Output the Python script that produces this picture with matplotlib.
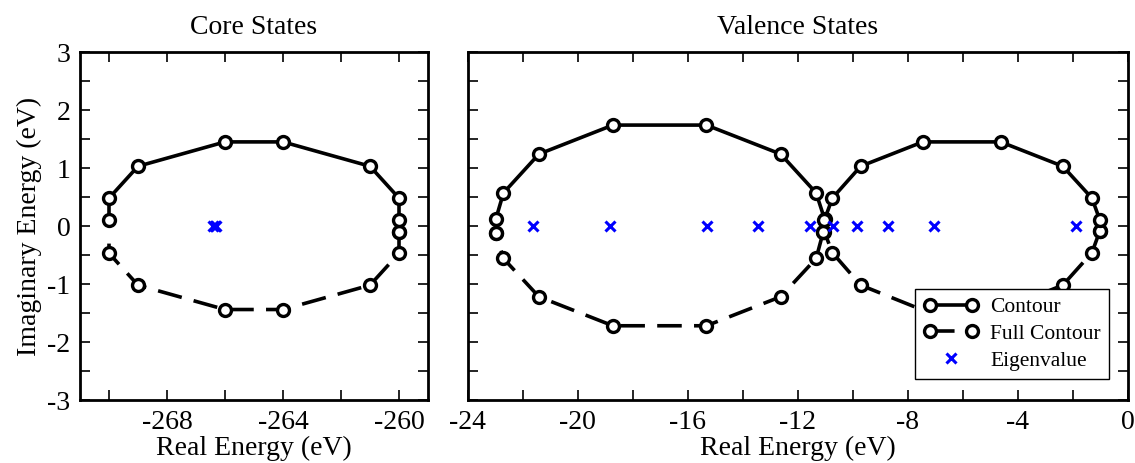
import matplotlib
matplotlib.use('Agg')
import matplotlib.pyplot as plt
from matplotlib.ticker import MultipleLocator
from matplotlib.legend_handler import HandlerLine2D

plt.rcParams['font.family'] = ['Liberation Serif', 'DejaVu Serif']
plt.rcParams['axes.unicode_minus'] = False

# core contour: upper half (solid), from right real axis round to the left
core_up_x = [-260.0, -260.0, -260.0, -261.0, -264.0, -266.0, -269.0, -270.0, -270.0]
core_up_y = [-0.1, 0.1, 0.48, 1.03, 1.45, 1.45, 1.03, 0.48, 0.1]
# mirrored lower half (dashed), right to left
core_lo_x = [-260.0, -260.0, -261.0, -264.0, -266.0, -269.0, -270.0, -270.0]
core_lo_y = [-0.1, -0.47, -1.02, -1.44, -1.44, -1.02, -0.47, -0.1]
core_eig = [-266.4, -266.35, -266.3]

# valence contour, two loops
val1_up_x = [-11.07, -11.02, -11.33, -12.62, -15.32, -18.72, -21.41, -22.70, -22.98, -22.98]
val1_up_y = [-0.1, 0.115, 0.57, 1.24, 1.74, 1.74, 1.24, 0.57, 0.115, -0.115]
val1_lo_x = [-11.07, -11.33, -12.62, -15.32, -18.72, -21.41, -22.70, -22.98]
val1_lo_y = [-0.1, -0.56, -1.22, -1.72, -1.72, -1.22, -0.56, -0.115]

val2_up_x = [-1.01, -1.01, -1.30, -2.36, -4.62, -7.45, -9.71, -10.74, -11.03]
val2_up_y = [-0.08, 0.1, 0.48, 1.03, 1.45, 1.45, 1.03, 0.48, 0.1]
val2_lo_x = [-1.01, -1.30, -2.36, -4.62, -7.45, -9.71, -10.74, -11.03]
val2_lo_y = [-0.08, -0.46, -1.02, -1.45, -1.45, -1.02, -0.46, -0.1]

val_eig = [-21.64, -18.83, -15.29, -13.45, -11.55, -10.73, -9.83, -8.73, -7.04, -1.88]

line_kw = dict(color='black', lw=2.6, marker='o', ms=8.6, mfc='white',
               mec='black', mew=2.4)
dash_kw = dict(line_kw, ls=(0, (6.8, 3.4)))
eig_kw = dict(ls='none', marker='x', color='#0000ff', ms=7.5, mew=2.2)

fig = plt.figure(figsize=(11.35, 4.63), dpi=100)
ax1 = fig.add_axes([80 / 1135, 63 / 463, 348 / 1135, 348 / 463])
ax2 = fig.add_axes([467.7 / 1135, 63 / 463, 660 / 1135, 348 / 463])

ax1.plot(core_lo_x, core_lo_y, markevery=list(range(len(core_lo_x) - 1)), **dash_kw)
ax1.plot(core_up_x, core_up_y, **line_kw)
ax1.plot(core_eig, [0] * len(core_eig), **eig_kw)

ax2.plot(val1_lo_x, val1_lo_y, **dash_kw)
ax2.plot(val2_lo_x, val2_lo_y, **dash_kw)
ax2.plot(val1_up_x, val1_up_y, **line_kw)
ax2.plot(val2_up_x, val2_up_y, **line_kw)
ax2.plot(val_eig, [0] * len(val_eig), **eig_kw)

# legend entries
h1, = ax2.plot([], [], **line_kw)
h2, = ax2.plot([], [], **dash_kw)
h3, = ax2.plot([], [], **eig_kw)
leg = ax2.legend([h1, h2, h3], ['Contour', 'Full Contour', 'Eigenvalue'],
                 loc='lower right', bbox_to_anchor=(0.972, 0.06),
                 borderaxespad=0, fontsize=15.5, numpoints=2,
                 handlelength=2.55, handletextpad=0.52,
                 handler_map={h3: HandlerLine2D(numpoints=1)},
                 labelspacing=0.3, borderpad=0.4,
                 fancybox=False, framealpha=1, edgecolor='black')
leg.get_frame().set_linewidth(1.0)

ax1.set_xlim(-271, -259)
ax2.set_xlim(-24, 0)
for ax in (ax1, ax2):
    ax.set_ylim(-3, 3)
    ax.xaxis.set_major_locator(MultipleLocator(4))
    ax.xaxis.set_minor_locator(MultipleLocator(2))
    ax.yaxis.set_major_locator(MultipleLocator(1))
    ax.yaxis.set_minor_locator(MultipleLocator(0.5))
    ax.tick_params(which='both', direction='in', top=True, right=True,
                   length=7, width=1.2, labelsize=20, pad=7)
    for s in ax.spines.values():
        s.set_linewidth(2)
    ax.set_xlabel('Real Energy (eV)', fontsize=20, labelpad=1)

ax2.tick_params(labelleft=False)
ax1.set_ylabel('Imaginary Energy (eV)', fontsize=20, labelpad=4)
ax1.set_title('Core States', fontsize=20, pad=13)
ax2.set_title('Valence States', fontsize=20, pad=13)

fig.savefig('out.png', dpi=100)
